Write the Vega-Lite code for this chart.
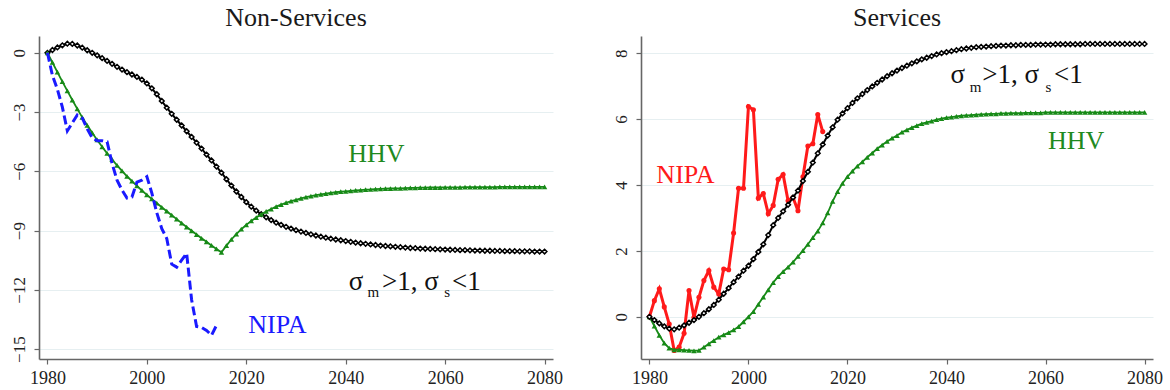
{
  "$schema": "https://vega.github.io/schema/vega-lite/v6.json",
  "padding": {"left": 5, "right": 2, "top": 5, "bottom": 2},
  "spacing": 44,
  "config": {
    "font": "Liberation Serif, DejaVu Serif, serif",
    "view": {"stroke": null},
    "axis": {"labelFont": "Liberation Serif, DejaVu Serif, serif", "labelFontSize": 17, "labelColor": "#222", "domainColor": "#666", "domainWidth": 1.6, "tickColor": "#666", "tickSize": 5, "tickWidth": 1.2, "gridColor": "#e6eff1", "gridWidth": 1, "title": null},
    "title": {"font": "Liberation Serif, DejaVu Serif, serif", "fontSize": 26, "fontWeight": "normal", "color": "#1a1a1a", "offset": 5, "anchor": "middle"},
    "text": {"font": "Liberation Serif, DejaVu Serif, serif"}
  },
  "datasets": {
    "ns_model": [
      {"year":1980,"value":0},{"year":1981,"value":0.14},{"year":1982,"value":0.27},{"year":1983,"value":0.38},{"year":1984,"value":0.46},{"year":1985,"value":0.45},{"year":1986,"value":0.37},{"year":1987,"value":0.26},{"year":1988,"value":0.13},{"year":1989,"value":0.0},
      {"year":1990,"value":-0.13},{"year":1991,"value":-0.27},{"year":1992,"value":-0.41},{"year":1993,"value":-0.56},{"year":1994,"value":-0.71},{"year":1995,"value":-0.85},{"year":1996,"value":-0.98},{"year":1997,"value":-1.1},{"year":1998,"value":-1.22},{"year":1999,"value":-1.36},
      {"year":2000,"value":-1.55},{"year":2001,"value":-1.8},{"year":2002,"value":-2.1},{"year":2003,"value":-2.44},{"year":2004,"value":-2.78},{"year":2005,"value":-3.09},{"year":2006,"value":-3.39},{"year":2007,"value":-3.68},{"year":2008,"value":-3.97},{"year":2009,"value":-4.26},
      {"year":2010,"value":-4.55},{"year":2011,"value":-4.85},{"year":2012,"value":-5.15},{"year":2013,"value":-5.45},{"year":2014,"value":-5.76},{"year":2015,"value":-6.07},{"year":2016,"value":-6.4},{"year":2017,"value":-6.72},{"year":2018,"value":-7.02},{"year":2019,"value":-7.3},
      {"year":2020,"value":-7.56},{"year":2021,"value":-7.79},{"year":2022,"value":-7.99},{"year":2023,"value":-8.17},{"year":2024,"value":-8.33},{"year":2025,"value":-8.47},{"year":2026,"value":-8.6},{"year":2027,"value":-8.71},{"year":2028,"value":-8.81},{"year":2029,"value":-8.9},
      {"year":2030,"value":-8.98},{"year":2031,"value":-9.05},{"year":2032,"value":-9.12},{"year":2033,"value":-9.19},{"year":2034,"value":-9.25},{"year":2035,"value":-9.31},{"year":2036,"value":-9.36},{"year":2037,"value":-9.41},{"year":2038,"value":-9.45},{"year":2039,"value":-9.49},
      {"year":2040,"value":-9.53},{"year":2041,"value":-9.57},{"year":2042,"value":-9.61},{"year":2043,"value":-9.64},{"year":2044,"value":-9.67},{"year":2045,"value":-9.7},{"year":2046,"value":-9.73},{"year":2047,"value":-9.76},{"year":2048,"value":-9.78},{"year":2049,"value":-9.8},
      {"year":2050,"value":-9.82},{"year":2051,"value":-9.84},{"year":2052,"value":-9.86},{"year":2053,"value":-9.88},{"year":2054,"value":-9.89},{"year":2055,"value":-9.91},{"year":2056,"value":-9.92},{"year":2057,"value":-9.93},{"year":2058,"value":-9.94},{"year":2059,"value":-9.95},
      {"year":2060,"value":-9.96},{"year":2061,"value":-9.97},{"year":2062,"value":-9.98},{"year":2063,"value":-9.99},{"year":2064,"value":-9.99},{"year":2065,"value":-10.0},{"year":2066,"value":-10.01},{"year":2067,"value":-10.01},{"year":2068,"value":-10.02},{"year":2069,"value":-10.02},
      {"year":2070,"value":-10.03},{"year":2071,"value":-10.03},{"year":2072,"value":-10.04},{"year":2073,"value":-10.04},{"year":2074,"value":-10.04},{"year":2075,"value":-10.05},{"year":2076,"value":-10.05},{"year":2077,"value":-10.05},{"year":2078,"value":-10.06},{"year":2079,"value":-10.06},{"year":2080,"value":-10.06}
    ],
    "ns_hhv": [
      {"year":1980,"value":0},{"year":1981,"value":-0.49},{"year":1982,"value":-0.98},{"year":1983,"value":-1.46},{"year":1984,"value":-1.93},{"year":1985,"value":-2.39},{"year":1986,"value":-2.84},{"year":1987,"value":-3.27},{"year":1988,"value":-3.67},{"year":1989,"value":-4.05},
      {"year":1990,"value":-4.41},{"year":1991,"value":-4.76},{"year":1992,"value":-5.09},{"year":1993,"value":-5.4},{"year":1994,"value":-5.7},{"year":1995,"value":-5.98},{"year":1996,"value":-6.25},{"year":1997,"value":-6.5},{"year":1998,"value":-6.74},{"year":1999,"value":-6.97},
      {"year":2000,"value":-7.19},{"year":2001,"value":-7.4},{"year":2002,"value":-7.61},{"year":2003,"value":-7.82},{"year":2004,"value":-8.02},{"year":2005,"value":-8.22},{"year":2006,"value":-8.42},{"year":2007,"value":-8.62},{"year":2008,"value":-8.82},{"year":2009,"value":-9.01},
      {"year":2010,"value":-9.2},{"year":2011,"value":-9.39},{"year":2012,"value":-9.57},{"year":2013,"value":-9.75},{"year":2014,"value":-9.93},{"year":2015,"value":-10.1},{"year":2016,"value":-9.76},{"year":2017,"value":-9.45},{"year":2018,"value":-9.18},{"year":2019,"value":-8.93},
      {"year":2020,"value":-8.71},{"year":2021,"value":-8.51},{"year":2022,"value":-8.34},{"year":2023,"value":-8.18},{"year":2024,"value":-8.03},{"year":2025,"value":-7.91},{"year":2026,"value":-7.79},{"year":2027,"value":-7.69},{"year":2028,"value":-7.59},{"year":2029,"value":-7.51},
      {"year":2030,"value":-7.44},{"year":2031,"value":-7.37},{"year":2032,"value":-7.31},{"year":2033,"value":-7.26},{"year":2034,"value":-7.21},{"year":2035,"value":-7.17},{"year":2036,"value":-7.13},{"year":2037,"value":-7.09},{"year":2038,"value":-7.06},{"year":2039,"value":-7.03},
      {"year":2040,"value":-7.01},{"year":2041,"value":-6.99},{"year":2042,"value":-6.97},{"year":2043,"value":-6.95},{"year":2044,"value":-6.93},{"year":2045,"value":-6.92},{"year":2046,"value":-6.9},{"year":2047,"value":-6.89},{"year":2048,"value":-6.88},{"year":2049,"value":-6.87},
      {"year":2050,"value":-6.86},{"year":2051,"value":-6.86},{"year":2052,"value":-6.85},{"year":2053,"value":-6.84},{"year":2054,"value":-6.84},{"year":2055,"value":-6.83},{"year":2056,"value":-6.83},{"year":2057,"value":-6.82},{"year":2058,"value":-6.82},{"year":2059,"value":-6.82},
      {"year":2060,"value":-6.81},{"year":2061,"value":-6.81},{"year":2062,"value":-6.81},{"year":2063,"value":-6.81},{"year":2064,"value":-6.8},{"year":2065,"value":-6.8},{"year":2066,"value":-6.8},{"year":2067,"value":-6.8},{"year":2068,"value":-6.8},{"year":2069,"value":-6.8},
      {"year":2070,"value":-6.8},{"year":2071,"value":-6.79},{"year":2072,"value":-6.79},{"year":2073,"value":-6.79},{"year":2074,"value":-6.79},{"year":2075,"value":-6.79},{"year":2076,"value":-6.79},{"year":2077,"value":-6.79},{"year":2078,"value":-6.79},{"year":2079,"value":-6.79},{"year":2080,"value":-6.79}
    ],
    "ns_nipa": [
      {"year":1980,"value":0},{"year":1981,"value":-1.15},{"year":1982,"value":-1.85},{"year":1983,"value":-2.75},{"year":1984,"value":-3.95},{"year":1985,"value":-3.55},{"year":1986,"value":-3.15},{"year":1987,"value":-3.3},{"year":1988,"value":-3.85},{"year":1989,"value":-4.3},
      {"year":1990,"value":-4.45},{"year":1991,"value":-4.45},{"year":1992,"value":-4.5},{"year":1993,"value":-5.6},{"year":1994,"value":-6.45},{"year":1995,"value":-6.95},{"year":1996,"value":-7.35},{"year":1997,"value":-7.3},{"year":1998,"value":-6.55},{"year":1999,"value":-6.45},
      {"year":2000,"value":-6.27},{"year":2001,"value":-7.1},{"year":2002,"value":-8.1},{"year":2003,"value":-8.9},{"year":2004,"value":-9.4},{"year":2005,"value":-10.7},{"year":2006,"value":-10.85},{"year":2007,"value":-10.5},{"year":2008,"value":-10.15},{"year":2009,"value":-12.5},
      {"year":2010,"value":-13.85},{"year":2011,"value":-13.9},{"year":2012,"value":-14.05},{"year":2013,"value":-14.3},{"year":2014,"value":-13.8}
    ],
    "ns_labels": [
      {"label":"HHV","series":"hhv","year":2040.5,"value":-5.52},
      {"label":"NIPA","series":"nipa","year":2020.4,"value":-14.19},
      {"label":"σ","series":"model","year":2040.6,"value":-12.01},
      {"label":">1, σ","series":"model","year":2047.3,"value":-12.01},
      {"label":"<1","series":"model","year":2061.4,"value":-12.01},
      {"label":"m","series":"model_sub","year":2044.4,"value":-12.35},
      {"label":"s","series":"model_sub","year":2059.8,"value":-12.35}
    ],
    "s_model": [
      {"year":1980,"value":0},{"year":1981,"value":-0.1},{"year":1982,"value":-0.2},{"year":1983,"value":-0.29},{"year":1984,"value":-0.36},{"year":1985,"value":-0.38},{"year":1986,"value":-0.33},{"year":1987,"value":-0.26},{"year":1988,"value":-0.18},{"year":1989,"value":-0.1},
      {"year":1990,"value":0.0},{"year":1991,"value":0.11},{"year":1992,"value":0.23},{"year":1993,"value":0.36},{"year":1994,"value":0.52},{"year":1995,"value":0.7},{"year":1996,"value":0.87},{"year":1997,"value":1.05},{"year":1998,"value":1.22},{"year":1999,"value":1.4},
      {"year":2000,"value":1.55},{"year":2001,"value":1.75},{"year":2002,"value":1.97},{"year":2003,"value":2.2},{"year":2004,"value":2.48},{"year":2005,"value":2.78},{"year":2006,"value":3.0},{"year":2007,"value":3.2},{"year":2008,"value":3.4},{"year":2009,"value":3.62},
      {"year":2010,"value":3.83},{"year":2011,"value":4.12},{"year":2012,"value":4.4},{"year":2013,"value":4.68},{"year":2014,"value":4.96},{"year":2015,"value":5.23},{"year":2016,"value":5.5},{"year":2017,"value":5.75},{"year":2018,"value":5.98},{"year":2019,"value":6.17},
      {"year":2020,"value":6.33},{"year":2021,"value":6.49},{"year":2022,"value":6.63},{"year":2023,"value":6.76},{"year":2024,"value":6.88},{"year":2025,"value":6.99},{"year":2026,"value":7.1},{"year":2027,"value":7.2},{"year":2028,"value":7.3},{"year":2029,"value":7.39},
      {"year":2030,"value":7.47},{"year":2031,"value":7.55},{"year":2032,"value":7.62},{"year":2033,"value":7.69},{"year":2034,"value":7.75},{"year":2035,"value":7.81},{"year":2036,"value":7.86},{"year":2037,"value":7.91},{"year":2038,"value":7.96},{"year":2039,"value":8.0},
      {"year":2040,"value":8.03},{"year":2041,"value":8.06},{"year":2042,"value":8.09},{"year":2043,"value":8.12},{"year":2044,"value":8.14},{"year":2045,"value":8.16},{"year":2046,"value":8.18},{"year":2047,"value":8.19},{"year":2048,"value":8.2},{"year":2049,"value":8.21},
      {"year":2050,"value":8.22},{"year":2051,"value":8.23},{"year":2052,"value":8.23},{"year":2053,"value":8.24},{"year":2054,"value":8.24},{"year":2055,"value":8.25},{"year":2056,"value":8.25},{"year":2057,"value":8.25},{"year":2058,"value":8.26},{"year":2059,"value":8.26},
      {"year":2060,"value":8.26},{"year":2061,"value":8.26},{"year":2062,"value":8.27},{"year":2063,"value":8.27},{"year":2064,"value":8.27},{"year":2065,"value":8.27},{"year":2066,"value":8.27},{"year":2067,"value":8.27},{"year":2068,"value":8.28},{"year":2069,"value":8.28},
      {"year":2070,"value":8.28},{"year":2071,"value":8.28},{"year":2072,"value":8.28},{"year":2073,"value":8.28},{"year":2074,"value":8.28},{"year":2075,"value":8.28},{"year":2076,"value":8.28},{"year":2077,"value":8.28},{"year":2078,"value":8.28},{"year":2079,"value":8.28},{"year":2080,"value":8.28}
    ],
    "s_hhv": [
      {"year":1980,"value":0},{"year":1981,"value":-0.28},{"year":1982,"value":-0.56},{"year":1983,"value":-0.8},{"year":1984,"value":-0.95},{"year":1985,"value":-1.0},{"year":1986,"value":-1.0},{"year":1987,"value":-1.01},{"year":1988,"value":-1.02},{"year":1989,"value":-1.03},
      {"year":1990,"value":-1.02},{"year":1991,"value":-0.92},{"year":1992,"value":-0.82},{"year":1993,"value":-0.72},{"year":1994,"value":-0.62},{"year":1995,"value":-0.55},{"year":1996,"value":-0.48},{"year":1997,"value":-0.4},{"year":1998,"value":-0.3},{"year":1999,"value":-0.15},
      {"year":2000,"value":0.0},{"year":2001,"value":0.16},{"year":2002,"value":0.38},{"year":2003,"value":0.6},{"year":2004,"value":0.82},{"year":2005,"value":1.04},{"year":2006,"value":1.22},{"year":2007,"value":1.37},{"year":2008,"value":1.51},{"year":2009,"value":1.66},
      {"year":2010,"value":1.83},{"year":2011,"value":2.01},{"year":2012,"value":2.2},{"year":2013,"value":2.4},{"year":2014,"value":2.6},{"year":2015,"value":2.85},{"year":2016,"value":3.15},{"year":2017,"value":3.5},{"year":2018,"value":3.8},{"year":2019,"value":4.05},
      {"year":2020,"value":4.25},{"year":2021,"value":4.42},{"year":2022,"value":4.57},{"year":2023,"value":4.7},{"year":2024,"value":4.84},{"year":2025,"value":4.97},{"year":2026,"value":5.1},{"year":2027,"value":5.21},{"year":2028,"value":5.32},{"year":2029,"value":5.42},
      {"year":2030,"value":5.5},{"year":2031,"value":5.6},{"year":2032,"value":5.67},{"year":2033,"value":5.74},{"year":2034,"value":5.8},{"year":2035,"value":5.86},{"year":2036,"value":5.9},{"year":2037,"value":5.94},{"year":2038,"value":5.98},{"year":2039,"value":6.01},
      {"year":2040,"value":6.04},{"year":2041,"value":6.06},{"year":2042,"value":6.08},{"year":2043,"value":6.1},{"year":2044,"value":6.11},{"year":2045,"value":6.12},{"year":2046,"value":6.13},{"year":2047,"value":6.14},{"year":2048,"value":6.15},{"year":2049,"value":6.16},
      {"year":2050,"value":6.16},{"year":2051,"value":6.17},{"year":2052,"value":6.17},{"year":2053,"value":6.18},{"year":2054,"value":6.18},{"year":2055,"value":6.18},{"year":2056,"value":6.19},{"year":2057,"value":6.19},{"year":2058,"value":6.19},{"year":2059,"value":6.19},
      {"year":2060,"value":6.2},{"year":2061,"value":6.2},{"year":2062,"value":6.2},{"year":2063,"value":6.2},{"year":2064,"value":6.2},{"year":2065,"value":6.2},{"year":2066,"value":6.2},{"year":2067,"value":6.2},{"year":2068,"value":6.2},{"year":2069,"value":6.2},
      {"year":2070,"value":6.2},{"year":2071,"value":6.2},{"year":2072,"value":6.2},{"year":2073,"value":6.2},{"year":2074,"value":6.2},{"year":2075,"value":6.2},{"year":2076,"value":6.2},{"year":2077,"value":6.2},{"year":2078,"value":6.2},{"year":2079,"value":6.2},{"year":2080,"value":6.2}
    ],
    "s_nipa": [
      {"year":1980,"value":0},{"year":1981,"value":0.49},{"year":1982,"value":0.85},{"year":1983,"value":0.3},{"year":1984,"value":-0.22},{"year":1985,"value":-1.02},{"year":1986,"value":-0.92},{"year":1987,"value":-0.5},{"year":1988,"value":0.8},{"year":1989,"value":-0.02},
      {"year":1990,"value":0.59},{"year":1991,"value":1.1},{"year":1992,"value":1.4},{"year":1993,"value":0.9},{"year":1994,"value":0.69},{"year":1995,"value":1.45},{"year":1996,"value":1.43},{"year":1997,"value":2.54},{"year":1998,"value":3.9},{"year":1999,"value":3.9},
      {"year":2000,"value":6.38},{"year":2001,"value":6.28},{"year":2002,"value":3.6},{"year":2003,"value":3.74},{"year":2004,"value":3.13},{"year":2005,"value":3.38},{"year":2006,"value":4.17},{"year":2007,"value":4.32},{"year":2008,"value":3.52},{"year":2009,"value":3.62},
      {"year":2010,"value":3.22},{"year":2011,"value":4.25},{"year":2012,"value":5.18},{"year":2013,"value":5.25},{"year":2014,"value":6.14},{"year":2015,"value":5.62}
    ],
    "s_labels": [
      {"label":"HHV","series":"hhv","year":2060.5,"value":5.09},
      {"label":"NIPA","series":"nipa","year":1981.4,"value":4.05},
      {"label":"σ","series":"model","year":2040.8,"value":7.09},
      {"label":">1, σ","series":"model","year":2047.2,"value":7.09},
      {"label":"<1","series":"model","year":2061.7,"value":7.09},
      {"label":"m","series":"model_sub","year":2044.7,"value":6.81},
      {"label":"s","series":"model_sub","year":2060.0,"value":6.81}
    ]
  },
  "hconcat": [
    {
      "width": 514,
      "height": 323,
      "title": {"text": "Non-Services"},
      "encoding": {
        "x": {"field": "year", "type": "quantitative", "scale": {"domain": [1978.3, 2081.7], "nice": false, "zero": false}, "axis": {"values": [1980, 2000, 2020, 2040, 2060, 2080], "format": "d", "grid": false, "labelPadding": 5, "labelFontSize": 18}},
        "y": {"field": "value", "type": "quantitative", "scale": {"domain": [-15.5, 0.85], "nice": false, "zero": false}, "axis": {"values": [0, -3, -6, -9, -12, -15], "grid": true, "labelAngle": 270, "labelAlign": "center", "labelBaseline": "bottom", "labelPadding": 6, "minExtent": 34, "maxExtent": 34}}
      },
      "layer": [
        {"data": {"name": "ns_model"}, "mark": {"type": "line", "color": "black", "strokeWidth": 2}},
        {"data": {"name": "ns_model"}, "mark": {"type": "point", "shape": "diamond", "filled": true, "fill": "white", "stroke": "black", "strokeWidth": 1.5, "size": 22, "opacity": 1}},
        {"data": {"name": "ns_hhv"}, "mark": {"type": "line", "color": "#178a17", "strokeWidth": 1.8}},
        {"data": {"name": "ns_hhv"}, "mark": {"type": "point", "shape": "triangle-up", "filled": true, "color": "#178a17", "size": 30, "opacity": 1}},
        {"data": {"name": "ns_nipa"}, "mark": {"type": "line", "color": "#1a1aff", "strokeWidth": 3, "strokeDash": [9, 4]}},
        {"data": {"name": "ns_labels"}, "transform": [{"filter": "datum.series == 'hhv'"}], "mark": {"type": "text", "align": "left", "baseline": "alphabetic", "fontSize": 26, "color": "#1f8a1f"}, "encoding": {"text": {"field": "label"}}},
        {"data": {"name": "ns_labels"}, "transform": [{"filter": "datum.series == 'nipa'"}], "mark": {"type": "text", "align": "left", "baseline": "alphabetic", "fontSize": 26, "color": "#1a1aff"}, "encoding": {"text": {"field": "label"}}},
        {"data": {"name": "ns_labels"}, "transform": [{"filter": "datum.series == 'model'"}], "mark": {"type": "text", "align": "left", "baseline": "alphabetic", "fontSize": 27, "color": "#111"}, "encoding": {"text": {"field": "label"}}},
        {"data": {"name": "ns_labels"}, "transform": [{"filter": "datum.series == 'model_sub'"}], "mark": {"type": "text", "align": "left", "baseline": "alphabetic", "fontSize": 15, "color": "#111"}, "encoding": {"text": {"field": "label"}}}
      ]
    },
    {
      "width": 512,
      "height": 323,
      "title": {"text": "Services"},
      "encoding": {
        "x": {"field": "year", "type": "quantitative", "scale": {"domain": [1978.3, 2081.7], "nice": false, "zero": false}, "axis": {"values": [1980, 2000, 2020, 2040, 2060, 2080], "format": "d", "grid": false, "labelPadding": 5, "labelFontSize": 18}},
        "y": {"field": "value", "type": "quantitative", "scale": {"domain": [-1.28, 8.52], "nice": false, "zero": false}, "axis": {"values": [0, 2, 4, 6, 8], "grid": true, "labelAngle": 270, "labelAlign": "center", "labelBaseline": "bottom", "labelPadding": 6, "minExtent": 34, "maxExtent": 34}}
      },
      "layer": [
        {"data": {"name": "s_nipa"}, "mark": {"type": "line", "color": "#ff1a1a", "strokeWidth": 3}},
        {"data": {"name": "s_nipa"}, "mark": {"type": "point", "shape": "circle", "filled": true, "color": "#ff1a1a", "size": 26, "opacity": 1}},
        {"data": {"name": "s_hhv"}, "mark": {"type": "line", "color": "#178a17", "strokeWidth": 1.8}},
        {"data": {"name": "s_hhv"}, "mark": {"type": "point", "shape": "triangle-up", "filled": true, "color": "#178a17", "size": 30, "opacity": 1}},
        {"data": {"name": "s_model"}, "mark": {"type": "line", "color": "black", "strokeWidth": 2}},
        {"data": {"name": "s_model"}, "mark": {"type": "point", "shape": "diamond", "filled": true, "fill": "white", "stroke": "black", "strokeWidth": 1.5, "size": 22, "opacity": 1}},
        {"data": {"name": "s_labels"}, "transform": [{"filter": "datum.series == 'hhv'"}], "mark": {"type": "text", "align": "left", "baseline": "alphabetic", "fontSize": 26, "color": "#1f8a1f"}, "encoding": {"text": {"field": "label"}}},
        {"data": {"name": "s_labels"}, "transform": [{"filter": "datum.series == 'nipa'"}], "mark": {"type": "text", "align": "left", "baseline": "alphabetic", "fontSize": 26, "color": "#ff1a1a"}, "encoding": {"text": {"field": "label"}}},
        {"data": {"name": "s_labels"}, "transform": [{"filter": "datum.series == 'model'"}], "mark": {"type": "text", "align": "left", "baseline": "alphabetic", "fontSize": 27, "color": "#111"}, "encoding": {"text": {"field": "label"}}},
        {"data": {"name": "s_labels"}, "transform": [{"filter": "datum.series == 'model_sub'"}], "mark": {"type": "text", "align": "left", "baseline": "alphabetic", "fontSize": 15, "color": "#111"}, "encoding": {"text": {"field": "label"}}}
      ]
    }
  ],
  "resolve": {"scale": {"x": "independent", "y": "independent"}}
}
